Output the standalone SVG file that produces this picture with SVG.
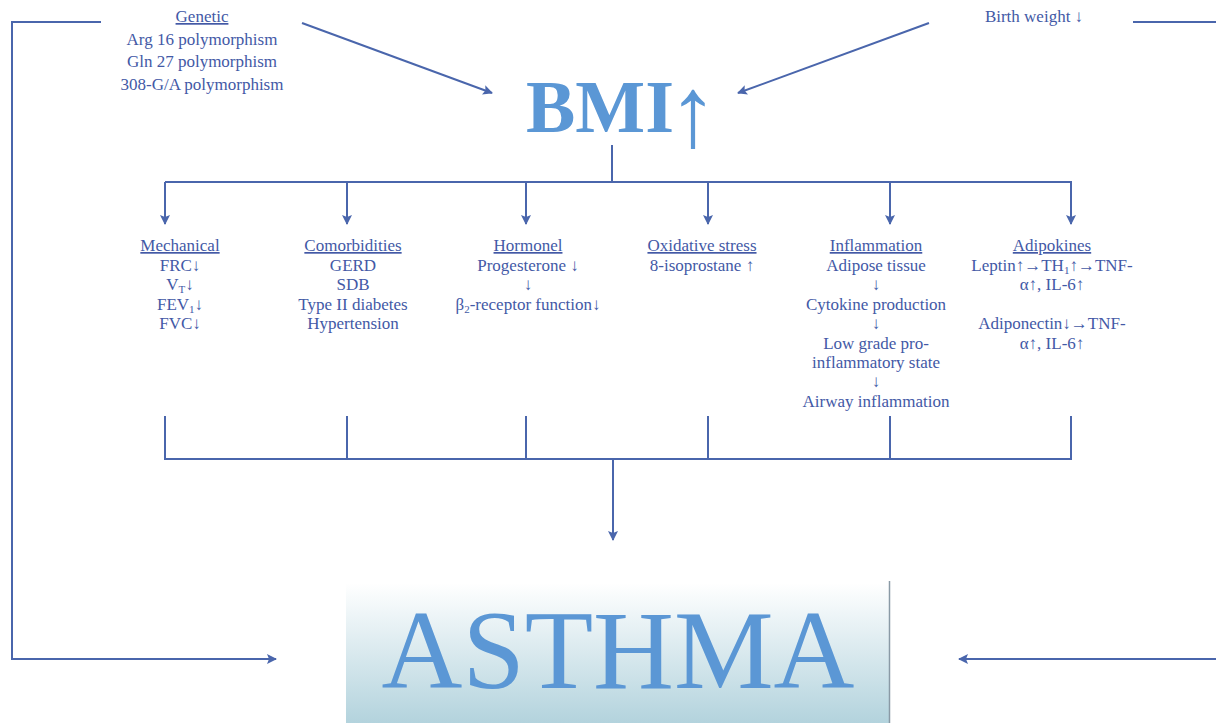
<svg xmlns="http://www.w3.org/2000/svg" width="1216" height="723" viewBox="0 0 1216 723">
<defs>
<marker id="ah" viewBox="0 0 10 10" refX="9" refY="5" markerWidth="10" markerHeight="10" markerUnits="userSpaceOnUse" orient="auto">
<path d="M0,0 L10,5 L0,10 L2,5 Z" fill="#4a66ac"/>
</marker>
<linearGradient id="bg" x1="0" y1="0" x2="0" y2="1">
<stop offset="0" stop-color="#ffffff"/>
<stop offset="1" stop-color="#b3d3dd"/>
</linearGradient>
<style>
.c{stroke:#4a66ac;stroke-width:2;fill:none}
.t{font-family:"Liberation Serif","Times New Roman",serif;font-size:17px;fill:#4359a6;text-anchor:middle}
.h{text-decoration:underline}
.big{font-family:"Liberation Serif","Times New Roman",serif;fill:#5b97d5;text-anchor:middle}
</style>
</defs>
<rect width="1216" height="723" fill="#ffffff"/>

<g id="asthma">
<rect x="346" y="583" width="543" height="140" fill="url(#bg)"/>
<line x1="889.5" y1="581" x2="889.5" y2="723" stroke="#8a9aa6" stroke-width="1.5"/>
<text class="big" x="618" y="688" font-size="112">ASTHMA</text>
</g>

<g id="bmi">
<text class="big" x="600" y="132" font-size="74" font-weight="bold">BMI<tspan x="693" y="146" font-size="100" font-weight="normal">↑</tspan></text>
</g>

<g id="genetic">
<text class="t h" x="202" y="22">Genetic</text>
<text class="t" x="202" y="45">Arg 16 polymorphism</text>
<text class="t" x="202" y="67">Gln 27 polymorphism</text>
<text class="t" x="202" y="90">308-G/A polymorphism</text>
</g>

<g id="birthweight">
<text class="t" x="1034" y="22">Birth weight ↓</text>
</g>

<g id="mechanical">
<text class="t h" x="180" y="251">Mechanical</text>
<text class="t" x="180" y="271">FRC↓</text>
<text class="t" x="180" y="290">V<tspan font-size="11" dy="3">T</tspan><tspan dy="-3">↓</tspan></text>
<text class="t" x="180" y="310">FEV<tspan font-size="11" dy="3">1</tspan><tspan dy="-3">↓</tspan></text>
<text class="t" x="180" y="329">FVC↓</text>
</g>

<g id="comorbidities">
<text class="t h" x="353" y="251">Comorbidities</text>
<text class="t" x="353" y="271">GERD</text>
<text class="t" x="353" y="290">SDB</text>
<text class="t" x="353" y="310">Type II diabetes</text>
<text class="t" x="353" y="329">Hypertension</text>
</g>

<g id="hormonel">
<text class="t h" x="528" y="251">Hormonel</text>
<text class="t" x="528" y="271">Progesterone ↓</text>
<text class="t" x="528" y="290">↓</text>
<text class="t" x="528" y="310">β<tspan font-size="11" dy="3">2</tspan><tspan dy="-3">-receptor function↓</tspan></text>
</g>

<g id="oxidative">
<text class="t h" x="702" y="251">Oxidative stress</text>
<text class="t" x="702" y="271">8-isoprostane ↑</text>
</g>

<g id="inflammation">
<text class="t h" x="876" y="251">Inflammation</text>
<text class="t" x="876" y="271">Adipose tissue</text>
<text class="t" x="876" y="290">↓</text>
<text class="t" x="876" y="310">Cytokine production</text>
<text class="t" x="876" y="329">↓</text>
<text class="t" x="876" y="349">Low grade pro-</text>
<text class="t" x="876" y="368">inflammatory state</text>
<text class="t" x="876" y="387">↓</text>
<text class="t" x="876" y="407">Airway inflammation</text>
</g>

<g id="adipokines">
<text class="t h" x="1052" y="251">Adipokines</text>
<text class="t" x="1052" y="271">Leptin↑→TH<tspan font-size="11" dy="3">1</tspan><tspan dy="-3">↑→TNF-</tspan></text>
<text class="t" x="1052" y="290">α↑, IL-6↑</text>
<text class="t" x="1052" y="329">Adiponectin↓→TNF-</text>
<text class="t" x="1052" y="349">α↑, IL-6↑</text>
</g>

<g id="connectors">
<polyline class="c" points="101,22 12,22 12,659 276,659" marker-end="url(#ah)"/>
<polyline class="c" points="1216,22 1133,22"/>
<line class="c" x1="1216" y1="659" x2="959" y2="659" marker-end="url(#ah)"/>
<line class="c" x1="302" y1="23" x2="492" y2="93" marker-end="url(#ah)"/>
<line class="c" x1="929" y1="23" x2="738" y2="93" marker-end="url(#ah)"/>
<line class="c" x1="612" y1="145" x2="612" y2="182"/>
<polyline class="c" points="165,182 1071,182 1071,224" marker-end="url(#ah)"/>
<line class="c" x1="165" y1="182" x2="165" y2="224" marker-end="url(#ah)"/>
<line class="c" x1="347" y1="182" x2="347" y2="224" marker-end="url(#ah)"/>
<line class="c" x1="526" y1="182" x2="526" y2="224" marker-end="url(#ah)"/>
<line class="c" x1="708" y1="182" x2="708" y2="224" marker-end="url(#ah)"/>
<line class="c" x1="890" y1="182" x2="890" y2="224" marker-end="url(#ah)"/>
<polyline class="c" points="165,416 165,459 1071,459 1071,416"/>
<line class="c" x1="347" y1="416" x2="347" y2="459"/>
<line class="c" x1="526" y1="416" x2="526" y2="459"/>
<line class="c" x1="708" y1="416" x2="708" y2="459"/>
<line class="c" x1="890" y1="416" x2="890" y2="459"/>
<line class="c" x1="613" y1="459" x2="613" y2="540" marker-end="url(#ah)"/>
</g>
</svg>
